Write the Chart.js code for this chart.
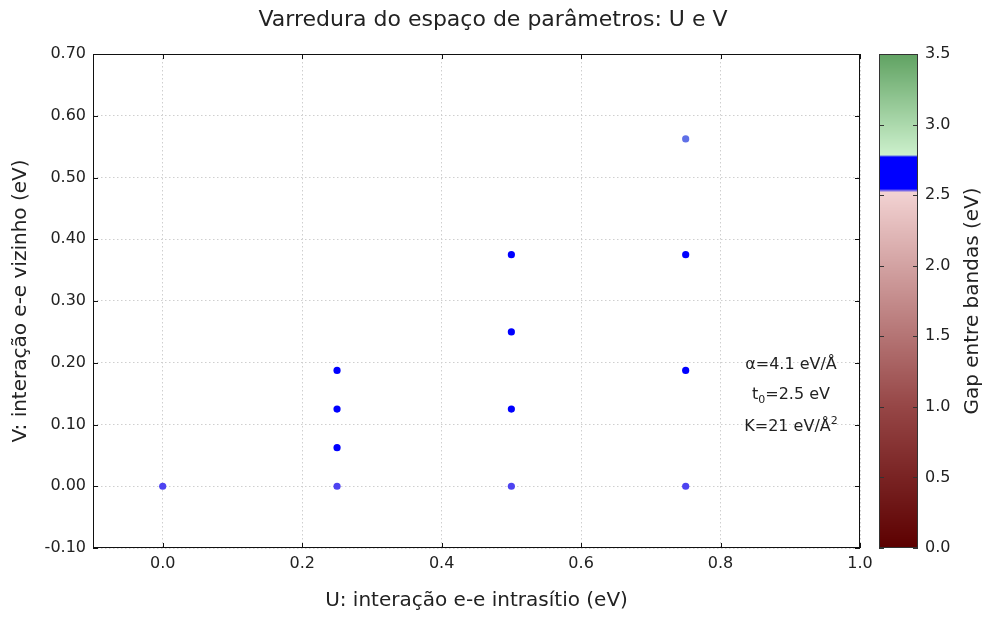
<!DOCTYPE html>
<html>
<head>
<meta charset="utf-8">
<script src="https://cdn.jsdelivr.net/npm/chart.js@4/dist/chart.umd.min.js"></script>
<style>
  body { margin: 0; background: #fff; }
  #wrap { width: 986px; height: 618px; }
</style>
</head>
<body>
<div id="wrap"><canvas id="sweepChart"></canvas></div>
<script>
// U, V grid points and the band gap found at each one
const uVals = [0, 0.25, 0.25, 0.25, 0.25, 0.5, 0.5, 0.5, 0.5, 0.75, 0.75, 0.75, 0.75];
const vVals = [0, 0, 0.0625, 0.125, 0.1875, 0, 0.125, 0.25, 0.375, 0, 0.1875, 0.375, 0.5625];
const gapVals = [2.537, 2.537, 2.62, 2.64, 2.66, 2.537, 2.65, 2.68, 2.71, 2.537, 2.68, 2.72, 2.777];

const xTicks = [0.0, 0.2, 0.4, 0.6, 0.8, 1.0];
const yTicks = [-0.1, 0.0, 0.1, 0.2, 0.3, 0.4, 0.5, 0.6, 0.7];
const gapTicks = [0.0, 0.5, 1.0, 1.5, 2.0, 2.5, 3.0, 3.5];

// red -> pink below the band, blue inside it, light -> dark green above
const cmapStops = [
  [0.0, [92, 0, 0]],
  [1.0, [150, 70, 70]],
  [2.52, [242, 210, 210]],
  [2.545, [0, 0, 255]],
  [2.77, [0, 0, 255]],
  [2.785, [204, 240, 204]],
  [3.5, [96, 162, 98]]
];

function gapColor(v) {
  if (v <= cmapStops[0][0]) return rgb(cmapStops[0][1]);
  for (let i = 1; i < cmapStops.length; i++) {
    const [v1, c1] = cmapStops[i];
    if (v <= v1) {
      const [v0, c0] = cmapStops[i - 1];
      const t = (v - v0) / (v1 - v0);
      return rgb(c0.map((c, k) => c + (c1[k] - c) * t));
    }
  }
  return rgb(cmapStops[cmapStops.length - 1][1]);
}
function rgb(c) {
  return `rgb(${Math.round(c[0])},${Math.round(c[1])},${Math.round(c[2])})`;
}

const points = uVals.map((u, i) => ({ x: u, y: vVals[i] }));
const txt = '#222';

// frame, inward ticks, colorbar and the parameter note
const decorPlugin = {
  id: 'decor',
  afterDraw(chart) {
    const { ctx, chartArea: { left, right, top, bottom }, scales: { x, y, gap } } = chart;
    ctx.save();
    ctx.strokeStyle = '#111';
    ctx.lineWidth = 1;

    // plot frame
    ctx.strokeRect(left + 0.5, top + 0.5, right - left - 1, bottom - top - 1);
    ctx.beginPath();
    xTicks.forEach(v => {
      const px = Math.round(x.getPixelForValue(v)) + 0.5;
      ctx.moveTo(px, bottom); ctx.lineTo(px, bottom - 5);
      ctx.moveTo(px, top); ctx.lineTo(px, top + 5);
    });
    yTicks.forEach(v => {
      const py = Math.round(y.getPixelForValue(v)) + 0.5;
      ctx.moveTo(left, py); ctx.lineTo(left + 5, py);
      ctx.moveTo(right, py); ctx.lineTo(right - 5, py);
    });
    ctx.stroke();

    // colorbar
    const barL = right + 19, barW = 39;
    const gTop = Math.round(gap.getPixelForValue(3.5));
    const gBot = Math.round(gap.getPixelForValue(0));
    for (let py = gTop; py < gBot; py++) {
      ctx.fillStyle = gapColor(gap.getValueForPixel(py + 0.5));
      ctx.fillRect(barL, py, barW, 1);
    }
    ctx.strokeStyle = '#333';
    ctx.strokeRect(barL + 0.5, gTop + 0.5, barW - 1, gBot - gTop - 1);
    ctx.beginPath();
    gapTicks.forEach(v => {
      const py = Math.round(gap.getPixelForValue(v)) + 0.5;
      ctx.moveTo(barL, py); ctx.lineTo(barL + 5, py);
      ctx.moveTo(barL + barW, py); ctx.lineTo(barL + barW - 5, py);
    });
    ctx.stroke();

    // colorbar label, reading upwards
    ctx.fillStyle = txt;
    ctx.font = '20px "DejaVu Sans"';
    ctx.textAlign = 'center';
    ctx.textBaseline = 'middle';
    ctx.save();
    ctx.translate(973, (gTop + gBot) / 2);
    ctx.rotate(-Math.PI / 2);
    ctx.fillText('Gap entre bandas (eV)', 0, 0);
    ctx.restore();

    // parameter note
    const cx = 791;
    const big = '16px "DejaVu Sans"', small = '11px "DejaVu Sans"';
    ctx.textAlign = 'left';
    ctx.textBaseline = 'alphabetic';
    drawRuns(ctx, cx, 369, [['α=4.1 eV/Å', big, 0]]);
    drawRuns(ctx, cx, 399, [['t', big, 0], ['0', small, 4], ['=2.5 eV', big, 0]]);
    drawRuns(ctx, cx, 431, [['K=21 eV/Å', big, 0], ['2', small, -7]]);
    ctx.restore();
  }
};

function drawRuns(ctx, cx, baseY, runs) {
  let w = 0;
  runs.forEach(([s, f]) => { ctx.font = f; w += ctx.measureText(s).width; });
  let px = cx - w / 2;
  runs.forEach(([s, f, dy]) => {
    ctx.font = f;
    ctx.fillText(s, px, baseY + dy);
    px += ctx.measureText(s).width;
  });
}

Chart.defaults.font.family = '"DejaVu Sans"';
Chart.defaults.color = txt;

new Chart(document.getElementById('sweepChart'), {
  type: 'scatter',
  data: {
    datasets: [{
      data: points,
      backgroundColor: gapVals.map(gapColor),
      borderWidth: 0,
      pointRadius: 3.6,
      pointHoverRadius: 3.6
    }]
  },
  options: {
    responsive: true,
    maintainAspectRatio: false,
    animation: false,
    layout: { padding: 0 },
    plugins: {
      legend: { display: false },
      tooltip: { enabled: false },
      title: {
        display: true,
        text: 'Varredura do espaço de parâmetros: U e V',
        font: { size: 22, weight: 'normal' },
        color: txt,
        padding: { top: 7, bottom: 20.6 }
      }
    },
    scales: {
      x: {
        type: 'linear',
        min: -0.1,
        max: 1.0,
        afterBuildTicks: s => { s.ticks = xTicks.map(v => ({ value: v })); },
        afterFit: s => { s.height = 70; },
        ticks: { font: { size: 16 }, padding: 6, callback: v => v.toFixed(1) },
        grid: { color: '#cfcfcf', drawTicks: false },
        border: { display: false, dash: [1.5, 2.5] },
        title: {
          display: true,
          text: 'U: interação e-e intrasítio (eV)',
          font: { size: 20 },
          padding: { top: 0, bottom: 5 }
        }
      },
      y: {
        type: 'linear',
        min: -0.1,
        max: 0.7,
        afterBuildTicks: s => { s.ticks = yTicks.map(v => ({ value: v })); },
        afterFit: s => { s.width = 93; },
        ticks: { font: { size: 16 }, padding: 7, callback: v => v.toFixed(2) },
        grid: { color: '#cfcfcf', drawTicks: false },
        border: { display: false, dash: [1.5, 2.5] },
        title: {
          display: true,
          text: 'V: interação e-e vizinho (eV)',
          font: { size: 20 },
          padding: { top: 9, bottom: 0 }
        }
      },
      gap: {
        type: 'linear',
        position: 'right',
        min: 0,
        max: 3.5,
        afterBuildTicks: s => { s.ticks = gapTicks.map(v => ({ value: v })); },
        afterFit: s => { s.width = 126; },
        ticks: { font: { size: 16 }, padding: 3, callback: v => v.toFixed(1) },
        // tick marks hidden, their length only pushes the labels past the colorbar
        grid: { display: false, drawTicks: true, tickLength: 62 },
        border: { display: false }
      }
    }
  },
  plugins: [decorPlugin]
});
</script>
</body>
</html>
